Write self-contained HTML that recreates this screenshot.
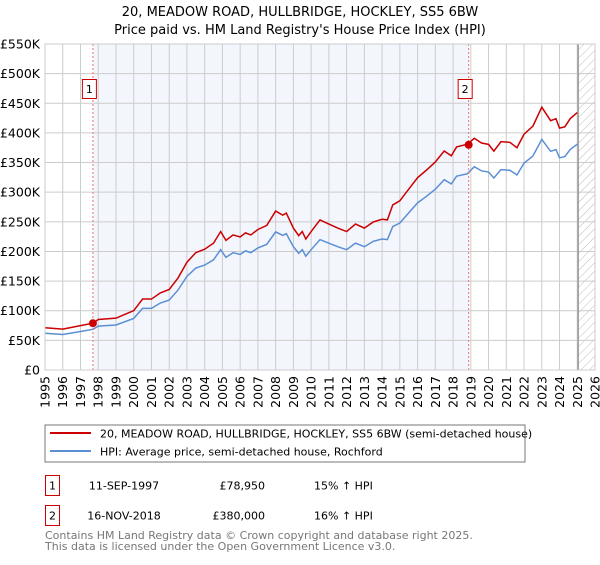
<!DOCTYPE html>
<html><head><meta charset="utf-8"><style>
body{margin:0;background:#fff;font-family:"Liberation Sans","DejaVu Sans",sans-serif;}
svg text{font-family:"DejaVu Sans","Liberation Sans",sans-serif;}
</style></head><body>
<svg id="c" width="600" height="560" xmlns="http://www.w3.org/2000/svg">
<defs><pattern id="hatch" width="6" height="6" patternUnits="userSpaceOnUse" patternTransform="rotate(45)"><line x1="0" y1="0" x2="0" y2="6" stroke="#bbb" stroke-width="1"/></pattern></defs>
<text x="300" y="16" text-anchor="middle" font-size="13" fill="#000">20, MEADOW ROAD, HULLBRIDGE, HOCKLEY, SS5 6BW</text>
<text x="300" y="34" text-anchor="middle" font-size="13" fill="#000">Price paid vs. HM Land Registry's House Price Index (HPI)</text>
<g id="plot"></g>
<rect x="45" y="425" width="480" height="37" fill="#fff" stroke="#777"/>
<line x1="50" y1="433" x2="91" y2="433" stroke="#cc0000" stroke-width="2"/>
<text x="100" y="437.5" font-size="11">20, MEADOW ROAD, HULLBRIDGE, HOCKLEY, SS5 6BW (semi-detached house)</text>
<line x1="50" y1="451" x2="91" y2="451" stroke="#5b8fd4" stroke-width="2"/>
<text x="100" y="455.5" font-size="11">HPI: Average price, semi-detached house, Rochford</text>
<g>
<rect x="45.5" y="475.5" width="14" height="20" fill="#fff" stroke="#cc0000"/>
<text x="52.5" y="489.5" text-anchor="middle" font-size="11">1</text>
<text x="124" y="489.5" text-anchor="middle" font-size="11">11-SEP-1997</text>
<text x="265" y="489.5" text-anchor="end" font-size="11">£78,950</text>
<text x="314" y="489.5" font-size="11">15% ↑ HPI</text></g>
<g>
<rect x="45.5" y="505.5" width="14" height="20" fill="#fff" stroke="#cc0000"/>
<text x="52.5" y="519.5" text-anchor="middle" font-size="11">2</text>
<text x="124" y="519.5" text-anchor="middle" font-size="11">16-NOV-2018</text>
<text x="265" y="519.5" text-anchor="end" font-size="11">£380,000</text>
<text x="314" y="519.5" font-size="11">16% ↑ HPI</text></g>
<text x="45" y="539" font-size="11" fill="#777">Contains HM Land Registry data © Crown copyright and database right 2025.</text>
<text x="45" y="550" font-size="11" fill="#777">This data is licensed under the Open Government Licence v3.0.</text>
</svg>
<script>
const years=[1995,1996,1997,1997.7,1998,1999,2000,2000.5,2001,2001.5,2002,2002.5,2003,2003.5,2004,2004.5,2004.9,2005.2,2005.6,2006,2006.3,2006.6,2007,2007.5,2008,2008.4,2008.6,2009,2009.3,2009.5,2009.7,2010,2010.5,2011,2011.5,2012,2012.5,2013,2013.5,2014,2014.3,2014.6,2015,2015.5,2016,2016.5,2017,2017.5,2017.9,2018.2,2018.8,2019.2,2019.6,2020,2020.3,2020.7,2021.2,2021.6,2022,2022.5,2023,2023.5,2023.8,2024,2024.3,2024.6,2025];
const hpi=[62,60,65,68.6,74,76,87,104,104,113,118,135,158,172,177,186,203,190,198,195,201,198,206,212,233,227,230,208,197,203,192,203,220,214,208,203,214,208,217,221,220,242,248,265,282,293,305,321,314,327,331,343,336,334,324,338,337,329,349,361,389,369,372,358,360,372,381];
const saleYears=[1997.7,2018.88];
const salePrices=[78.95,380];
const yTicks=[0,50,100,150,200,250,300,350,400,450,500,550];
const xTicks=[1995,1996,1997,1998,1999,2000,2001,2002,2003,2004,2005,2006,2007,2008,2009,2010,2011,2012,2013,2014,2015,2016,2017,2018,2019,2020,2021,2022,2023,2024,2025,2026];
const X0=45,X1=595,Y0=370,Y1=44;
const xs=y=>X0+(y-1995)/(2026-1995)*(X1-X0);
const ys=v=>Y0-v/550*(Y0-Y1);
const NS='http://www.w3.org/2000/svg';
const g=document.getElementById('plot');
function mk(t,a){const e=document.createElementNS(NS,t);for(const k in a)e.setAttribute(k,a[k]);g.appendChild(e);return e;}
function hpiAt(y){for(let i=1;i<years.length;i++){if(y<=years[i]){const t=(y-years[i-1])/(years[i]-years[i-1]);return hpi[i-1]+t*(hpi[i]-hpi[i-1]);}}return hpi[hpi.length-1];}
let e=mk('rect',{x:xs(saleYears[0]),y:Y1,width:xs(saleYears[1])-xs(saleYears[0]),height:Y0-Y1,fill:'#f3f6fd'});


e=mk('rect',{x:xs(2025.05),y:Y1,width:X1-xs(2025.05),height:Y0-Y1,fill:'url(#hatch)'});


yTicks.forEach(v=>{
 let l=mk('line',{x1:X0,x2:X1,y1:ys(v),y2:ys(v),stroke:'#ccc'});
 
 
 let t=mk('text',{x:40,y:ys(v)+4.5,'text-anchor':'end','font-size':12.5});
 t.textContent=v===0?'£0':'£'+v+'K';
 
 
});
xTicks.forEach(v=>{
 let l=mk('line',{x1:xs(v),x2:xs(v),y1:Y1,y2:Y0,stroke:'#ccc'});
 
 
 let t=mk('text',{x:0,y:0,'text-anchor':'end','font-size':12.5,transform:`translate(${xs(v)+4.5},${376}) rotate(-90)`});
 t.textContent=v;
 
 
});
e=mk('line',{x1:xs(2025.05),x2:xs(2025.05),y1:Y1,y2:Y0,stroke:'#999','stroke-width':1.5});


const f1=salePrices[0]/hpiAt(saleYears[0]),f2=salePrices[1]/hpiAt(saleYears[1]);
const red=years.map((y,i)=>hpi[i]*(y<saleYears[1]?f1:f2));
e=mk('polyline',{points:years.map((y,i)=>xs(y)+','+ys(hpi[i])).join(' '),fill:'none',stroke:'#5b8fd4','stroke-width':1.5});


e=mk('polyline',{points:years.map((y,i)=>xs(y)+','+ys(red[i])).join(' '),fill:'none',stroke:'#cc0000','stroke-width':1.5});


saleYears.forEach((y,i)=>{
 let l=mk('line',{x1:xs(y),x2:xs(y),y1:Y1,y2:Y0,stroke:'#f07070','stroke-dasharray':'2,2'});
 
 
 let c=mk('circle',{cx:xs(y),cy:ys(salePrices[i]),r:4,fill:'#cc0000'});
 
 
 let r=mk('rect',{x:xs(y)-10.5,y:79.5,width:14,height:19,fill:'#fff',stroke:'#cc0000'});
 
 
 let t=mk('text',{x:xs(y)-3.5,y:93,'text-anchor':'middle','font-size':11});
 t.textContent=String(i+1);
 
 
});
e=mk('rect',{x:X0,y:Y1,width:X1-X0,height:Y0-Y1,fill:'none',stroke:'#ccc'});


</script>
</body></html>
